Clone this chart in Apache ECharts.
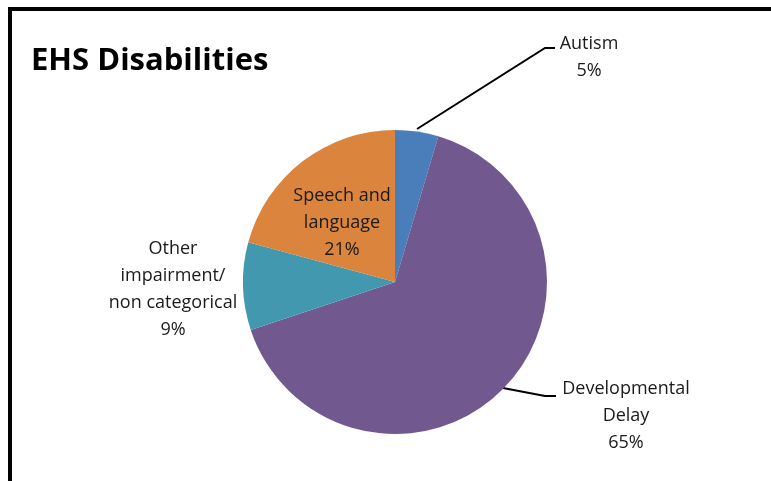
<!DOCTYPE html>
<html>
<head>
<meta charset="utf-8">
<script src="https://cdn.jsdelivr.net/npm/echarts@6/dist/echarts.min.js"></script>
<style>html,body{margin:0;padding:0;background:#fff}#c{width:771px;height:481px}</style>
</head>
<body>
<div id="c"></div>
<script>
const titleText = "EHS Disabilities";
const categories = ["Autism", "Developmental\nDelay", "Other\nimpairment/\nnon categorical", "Speech and\nlanguage"];
const values = [4.6, 65.3, 9.3, 20.8];
const colors = ["#4a7ebb", "#71588f", "#4198af", "#db843d"];

const chart = echarts.init(document.getElementById('c'), null, {renderer: 'canvas'});
const FONT = "'Open Sans', 'Noto Sans', sans-serif";

const layouts = [
  {x: 589, y: 57, pts: [[417, 129], [545, 48], [555, 48]]},
  {x: 626, y: 416, pts: [[503, 388], [545, 396], [556, 396]]},
  {x: 173, y: 289, pts: null},
  {x: 342, y: 223, pts: null}
];

chart.setOption({
  animation: false,
  graphic: [
    {type: 'rect', shape: {x: 10, y: 9, width: 800, height: 600}, style: {fill: 'none', stroke: '#000', lineWidth: 4}, z: 0},
    {type: 'text', left: 31, top: 46, style: {text: titleText, font: "bold 31px " + FONT, fill: '#000'}}
  ],
  series: [{
    type: 'pie',
    center: [395, 282],
    radius: 152,
    startAngle: 90,
    clockwise: true,
    silent: true,
    itemStyle: {borderWidth: 0},
    label: {
      show: true,
      position: 'outside',
      fontFamily: FONT,
      fontSize: 18,
      lineHeight: 27,
      color: '#1a1a1a',
      align: 'center',
      formatter: p => p.name + "\n" + Math.round(p.percent) + "%"
    },
    labelLine: {show: true, lineStyle: {color: '#000', width: 2}},
    labelLayout: function (params) {
      const L = layouts[params.dataIndex];
      const o = {x: L.x, y: L.y, align: 'center', verticalAlign: 'middle'};
      if (L.pts) o.labelLinePoints = L.pts;
      return o;
    },
    data: categories.map((c, i) => ({
      name: c,
      value: values[i],
      itemStyle: {color: colors[i]},
      labelLine: {show: !!layouts[i].pts}
    }))
  }]
});
</script>
</body>
</html>
